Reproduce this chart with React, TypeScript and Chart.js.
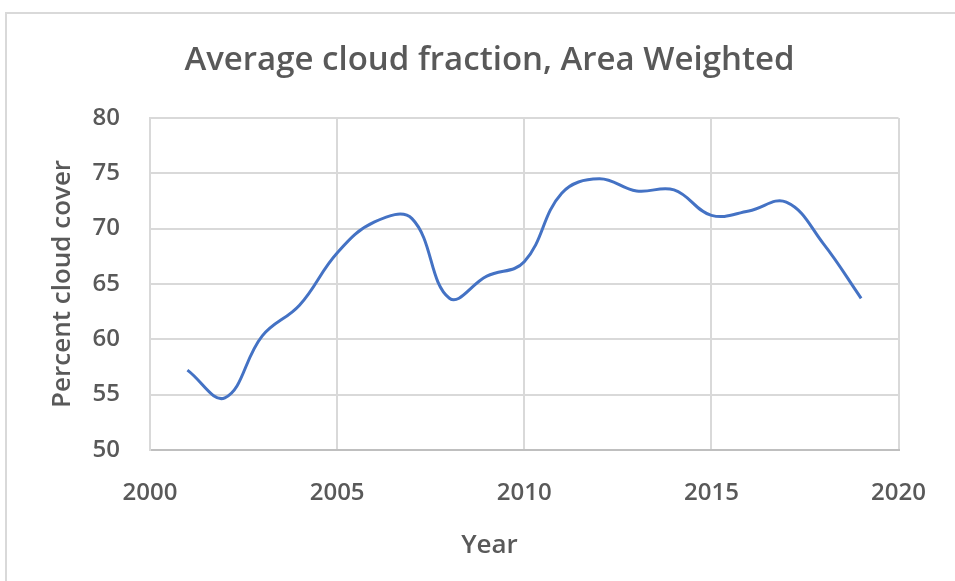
import React, { useEffect, useRef } from "react";
import { Chart, registerables } from "chart.js";

Chart.register(...registerables);

const years = [2001, 2002, 2003, 2004, 2005, 2006, 2007, 2008, 2009, 2010, 2011, 2012, 2013, 2014, 2015, 2016, 2017, 2018, 2019];
const cloudCover = [57.2, 54.7, 60.3, 63.1, 67.8, 70.6, 70.9, 63.7, 65.7, 67.0, 73.2, 74.5, 73.4, 73.5, 71.2, 71.6, 72.4, 68.6, 63.7];
const xTicks = [2000, 2005, 2010, 2015, 2020];
const yTicks = [50, 55, 60, 65, 70, 75, 80];

const chartTitle = "Average cloud fraction, Area Weighted";
const xTitle = "Year";
const yTitle = "Percent cloud cover";

const TEXT = "#595959";
const GRID = "#d9d9d9";
const LINE = "#4472C4";
const FONT = "'Open Sans', sans-serif";

export default function App() {
  const ref = useRef<HTMLCanvasElement | null>(null);

  useEffect(() => {
    if (!ref.current) return;
    const chart = new Chart(ref.current, {
      type: "line",
      data: {
        datasets: [
          {
            data: years.map((y, i) => ({ x: y, y: cloudCover[i] })),
            borderColor: LINE,
            backgroundColor: LINE,
            borderWidth: 3,
            pointRadius: 0,
            tension: 0.4,
            fill: false,
            yAxisID: "y",
          },
        ],
      },
      options: {
        animation: false,
        responsive: false,
        maintainAspectRatio: false,
        layout: { padding: { left: 24, right: 0, top: 0, bottom: 0 } },
        plugins: {
          legend: { display: false },
          tooltip: { enabled: false },
          title: {
            display: true,
            text: chartTitle,
            color: TEXT,
            font: { family: FONT, size: 33, weight: "600", lineHeight: 1.2 },
            padding: { top: 41, bottom: 37.4 },
          },
          subtitle: {
            display: true,
            position: "bottom",
            text: xTitle,
            color: TEXT,
            font: { family: FONT, size: 26, weight: "600", lineHeight: 1.2 },
            padding: { top: 10, bottom: 20 },
          },
        },
        scales: {
          x: {
            type: "linear",
            min: 2000,
            max: 2020,
            afterBuildTicks: (axis: any) => {
              axis.ticks = xTicks.map((v) => ({ value: v }));
            },
            afterFit: (axis: any) => {
              axis.height = 70;
            },
            grid: { color: GRID, lineWidth: 2, drawTicks: false },
            border: { color: "#bfbfbf", width: 2 },
            ticks: {
              color: TEXT,
              padding: 29,
              font: { family: FONT, size: 24, weight: "600" },
              callback: (v: any) => String(v),
            },
          },
          y: {
            type: "linear",
            position: "left",
            min: 50,
            max: 80,
            afterBuildTicks: (axis: any) => {
              axis.ticks = yTicks.map((v) => ({ value: v }));
            },
            afterFit: (axis: any) => {
              axis.width = 126;
            },
            grid: { color: GRID, lineWidth: 2, drawTicks: false },
            border: { color: GRID, width: 2 },
            ticks: {
              color: TEXT,
              padding: 30,
              font: { family: FONT, size: 24, weight: "600" },
            },
            title: {
              display: true,
              text: yTitle,
              color: TEXT,
              font: { family: FONT, size: 26, weight: "600", lineHeight: 1.2 },
              padding: { top: 23, bottom: 0 },
            },
          },
          yRight: {
            type: "linear",
            position: "right",
            min: 50,
            max: 80,
            afterFit: (axis: any) => {
              axis.width = 44;
            },
            grid: { display: false, drawTicks: false },
            border: { display: false },
            ticks: { display: false },
          },
        },
      },
    });
    return () => chart.destroy();
  }, []);

  return (
    <div style={{ position: "absolute", left: 0, top: 0, width: 955, height: 581, background: "#fff", overflow: "hidden" }}>
      <div
        style={{
          position: "absolute",
          left: 5,
          top: 12,
          width: 980,
          height: 600,
          borderTop: `2px solid ${GRID}`,
          borderLeft: `2px solid ${GRID}`,
          boxSizing: "border-box",
        }}
      />
      <canvas ref={ref} width={955} height={581} style={{ position: "absolute", left: 0, top: 0, width: 955, height: 581 }} />
    </div>
  );
}
